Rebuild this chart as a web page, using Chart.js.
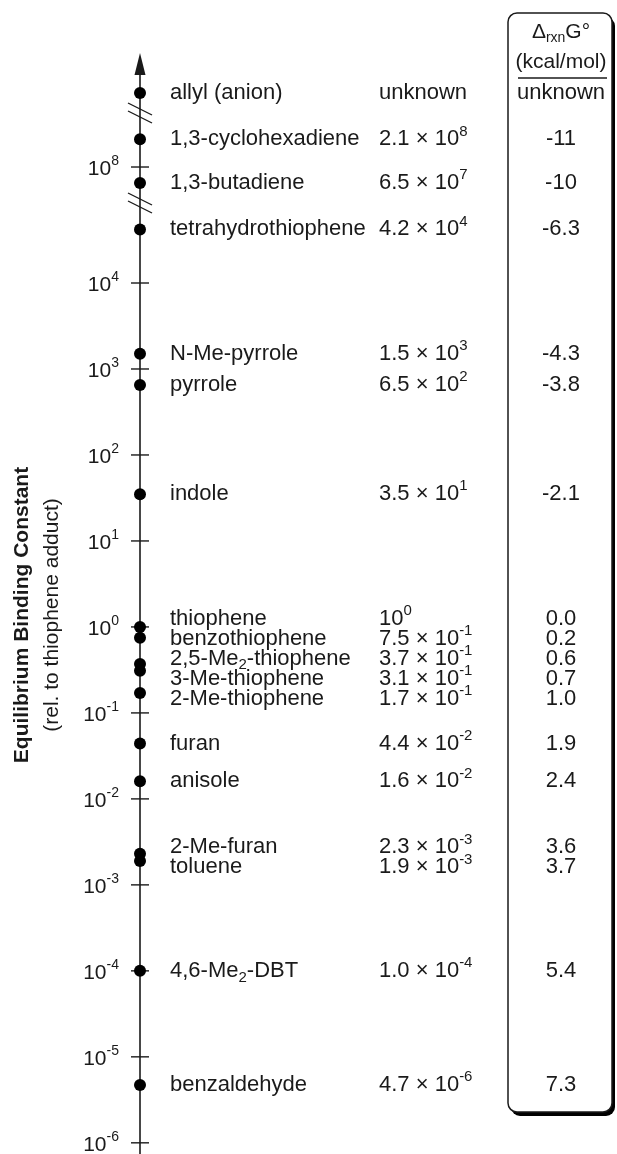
<!DOCTYPE html>
<html>
<head>
<meta charset="utf-8">
<script src="https://cdn.jsdelivr.net/npm/chart.js@4"></script>
<style>
  html, body { margin: 0; padding: 0; background: #fff; }
</style>
</head>
<body>
<canvas id="chart" width="617" height="1154"></canvas>
<script>
// compounds, top to bottom ("_2" marks a subscript)
const compounds = [
  "allyl (anion)", "1,3-cyclohexadiene", "1,3-butadiene", "tetrahydrothiophene",
  "N-Me-pyrrole", "pyrrole", "indole", "thiophene", "benzothiophene",
  "2,5-Me_2-thiophene", "3-Me-thiophene", "2-Me-thiophene", "furan", "anisole",
  "2-Me-furan", "toluene", "4,6-Me_2-DBT", "benzaldehyde",
];

// equilibrium binding constant, rel. to thiophene adduct (null = unknown)
const bindingK = [
  null, 2.1e8, 6.5e7, 4.2e4, 1.5e3, 6.5e2, 3.5e1, 1.0, 7.5e-1,
  3.7e-1, 3.1e-1, 1.7e-1, 4.4e-2, 1.6e-2, 2.3e-3, 1.9e-3, 1.0e-4, 4.7e-6,
];

// ΔrxnG° in kcal/mol (null = unknown)
const deltaG = [
  null, -11, -10, -6.3, -4.3, -3.8, -2.1, 0.0, 0.2,
  0.6, 0.7, 1.0, 1.9, 2.4, 3.6, 3.7, 5.4, 7.3,
];

// decades that get a tick on the axis
const tickExponents = [8, 4, 3, 2, 1, 0, -1, -2, -3, -4, -5, -6];

// broken axis: everything above the lower break is shifted down by GAP decades
const BREAK_LOW = 4.93;
const BREAK_HIGH = 5.977;
const GAP = 2.651;
const UNKNOWN_POS = 6.21;

const toAxis = (k) => {
  if (k === null) return UNKNOWN_POS;
  const e = Math.log10(k);
  return e > BREAK_LOW ? e - GAP : e;
};

const AXIS_X = 140;
const FONT = '"Liberation Sans", Arial, sans-serif';
const SIZE = 22;
const INK = "#1a1a1a";

// "_2" -> subscript
const parseName = (s) =>
  s.split(/(_\d+)/).filter(Boolean).map((p) =>
    p[0] === "_" ? { text: p.slice(1), mode: "sub" } : { text: p, mode: "n" });

const formatK = (k) => {
  if (k === null) return [{ text: "unknown", mode: "n" }];
  const exp = Math.floor(Math.log10(k) + 1e-9);
  const mant = k / Math.pow(10, exp);
  if (Math.abs(mant - 1) < 1e-9 && exp === 0) {
    return [{ text: "10", mode: "n" }, { text: "0", mode: "sup" }];
  }
  return [
    { text: mant.toFixed(1) + " \u00d7 10", mode: "n" },
    { text: String(exp), mode: "sup" },
  ];
};

const formatG = (g) => {
  if (g === null) return "unknown";
  return Math.abs(g) >= 10 ? String(Math.round(g)) : g.toFixed(1);
};

function drawRich(ctx, segs, x, y, align, size, weight) {
  const small = Math.round(size * 0.68);
  const w = weight || "normal";
  const fontFor = (m) => `${w} ${m === "n" ? size : small}px ${FONT}`;
  let total = 0;
  const widths = segs.map((s) => {
    ctx.font = fontFor(s.mode);
    const mw = ctx.measureText(s.text).width;
    total += mw;
    return mw;
  });
  let cx = align === "right" ? x - total : align === "center" ? x - total / 2 : x;
  ctx.textAlign = "left";
  ctx.textBaseline = "middle";
  segs.forEach((s, i) => {
    ctx.font = fontFor(s.mode);
    const dy = s.mode === "sup" ? -size * 0.36 : s.mode === "sub" ? size * 0.3 : 0;
    ctx.fillText(s.text, cx, y + dy);
    cx += widths[i];
  });
}

// push crowded labels apart, keeping each crowd centred on its points
function spreadLabels(ys, gap) {
  const order = ys.map((y, i) => i).sort((a, b) => ys[a] - ys[b]);
  const groups = order.map((i) => ({ idx: [i], center: ys[i] }));
  let merged = true;
  while (merged) {
    merged = false;
    for (let g = 0; g < groups.length - 1; g++) {
      const a = groups[g];
      const b = groups[g + 1];
      const aBottom = a.center + ((a.idx.length - 1) * gap) / 2;
      const bTop = b.center - ((b.idx.length - 1) * gap) / 2;
      if (bTop - aBottom < gap) {
        const idx = a.idx.concat(b.idx);
        const center = idx.reduce((s, i) => s + ys[i], 0) / idx.length;
        groups.splice(g, 2, { idx, center });
        merged = true;
        break;
      }
    }
  }
  const out = [];
  groups.forEach((g) =>
    g.idx.forEach((i, k) => { out[i] = g.center + (k - (g.idx.length - 1) / 2) * gap; }));
  return out;
}

function roundRect(ctx, x, y, w, h, r) {
  ctx.beginPath();
  ctx.moveTo(x + r, y);
  ctx.arcTo(x + w, y, x + w, y + h, r);
  ctx.arcTo(x + w, y + h, x, y + h, r);
  ctx.arcTo(x, y + h, x, y, r);
  ctx.arcTo(x, y, x + w, y, r);
  ctx.closePath();
}

const ladderPlugin = {
  id: "ladder",
  beforeDatasetsDraw(chart) {
    const { ctx, scales: { x, y }, chartArea } = chart;
    const ax = x.getPixelForValue(AXIS_X);
    ctx.save();
    ctx.fillStyle = INK;
    ctx.strokeStyle = INK;

    // value box with drop shadow
    const bx = 508, by = 13, bw = 104, bh = 1099;
    ctx.fillStyle = "#000";
    roundRect(ctx, bx + 3, by + 4, bw, bh, 9);
    ctx.fill();
    ctx.fillStyle = "#fff";
    roundRect(ctx, bx, by, bw, bh, 9);
    ctx.fill();
    ctx.lineWidth = 1.5;
    ctx.stroke();
    ctx.fillStyle = INK;
    const boxMid = bx + bw / 2 + 1;
    drawRich(ctx, [
      { text: "\u0394", mode: "n" },
      { text: "rxn", mode: "sub" },
      { text: "G\u00b0", mode: "n" },
    ], boxMid, 32, "center", SIZE - 1);
    drawRich(ctx, [{ text: "(kcal/mol)", mode: "n" }], boxMid, 62, "center", SIZE - 1);
    ctx.lineWidth = 1.5;
    ctx.beginPath();
    ctx.moveTo(bx + 10, 78);
    ctx.lineTo(bx + bw - 5, 78);
    ctx.stroke();

    // axis line with arrow head
    const top = chartArea.top;
    ctx.lineWidth = 1.6;
    ctx.beginPath();
    ctx.moveTo(ax, chartArea.bottom);
    ctx.lineTo(ax, top + 18);
    ctx.stroke();
    ctx.beginPath();
    ctx.moveTo(ax, top);
    ctx.lineTo(ax - 5.5, top + 22);
    ctx.lineTo(ax + 5.5, top + 22);
    ctx.closePath();
    ctx.fill();

    // ticks and tick labels
    tickExponents.forEach((e) => {
      const py = y.getPixelForValue(e > BREAK_LOW ? e - GAP : e);
      ctx.lineWidth = 1.4;
      ctx.beginPath();
      ctx.moveTo(ax - 9, py);
      ctx.lineTo(ax + 9, py);
      ctx.stroke();
      drawRich(ctx, [
        { text: "10", mode: "n" },
        { text: String(e), mode: "sup" },
      ], ax - 21, py + 2, "right", SIZE - 1);
    });

    // axis breaks
    [BREAK_LOW, BREAK_HIGH].forEach((b) => {
      const py = y.getPixelForValue(b);
      ctx.lineWidth = 1.3;
      [-4, 4].forEach((o) => {
        ctx.beginPath();
        ctx.moveTo(ax - 12, py + o - 6);
        ctx.lineTo(ax + 12, py + o + 6);
        ctx.stroke();
      });
    });

    // axis title
    ctx.save();
    ctx.translate(22, 615);
    ctx.rotate(-Math.PI / 2);
    drawRich(ctx, [{ text: "Equilibrium Binding Constant", mode: "n" }], 0, 0, "center", SIZE - 1, "bold");
    ctx.restore();
    ctx.save();
    ctx.translate(52, 615);
    ctx.rotate(-Math.PI / 2);
    drawRich(ctx, [{ text: "(rel. to thiophene adduct)", mode: "n" }], 0, 0, "center", SIZE - 1);
    ctx.restore();

    // row labels: name, K, ΔG
    const pointYs = bindingK.map((k) => y.getPixelForValue(toAxis(k)));
    const labelYs = spreadLabels(pointYs, 20);
    compounds.forEach((name, i) => {
      const ly = labelYs[i];
      drawRich(ctx, parseName(name), 170, ly, "left", SIZE);
      drawRich(ctx, formatK(bindingK[i]), 379, ly, "left", SIZE);
      drawRich(ctx, [{ text: formatG(deltaG[i]), mode: "n" }], boxMid, ly, "center", SIZE);
    });
    ctx.restore();
  },
};

new Chart(document.getElementById("chart"), {
  type: "scatter",
  data: {
    datasets: [{
      data: bindingK.map((k) => ({ x: AXIS_X, y: toAxis(k) })),
      pointRadius: 6,
      pointHoverRadius: 6,
      backgroundColor: "#000",
      borderColor: "#000",
      borderWidth: 0,
    }],
  },
  options: {
    responsive: false,
    animation: false,
    devicePixelRatio: 1,
    layout: { autoPadding: false, padding: { top: 53, bottom: 0, left: 0, right: 0 } },
    scales: {
      x: { type: "linear", min: 0, max: 617, display: false },
      y: { type: "linear", min: -6.13, max: 6.675, display: false },
    },
    plugins: { legend: { display: false }, tooltip: { enabled: false } },
  },
  plugins: [ladderPlugin],
});
</script>
</body>
</html>
